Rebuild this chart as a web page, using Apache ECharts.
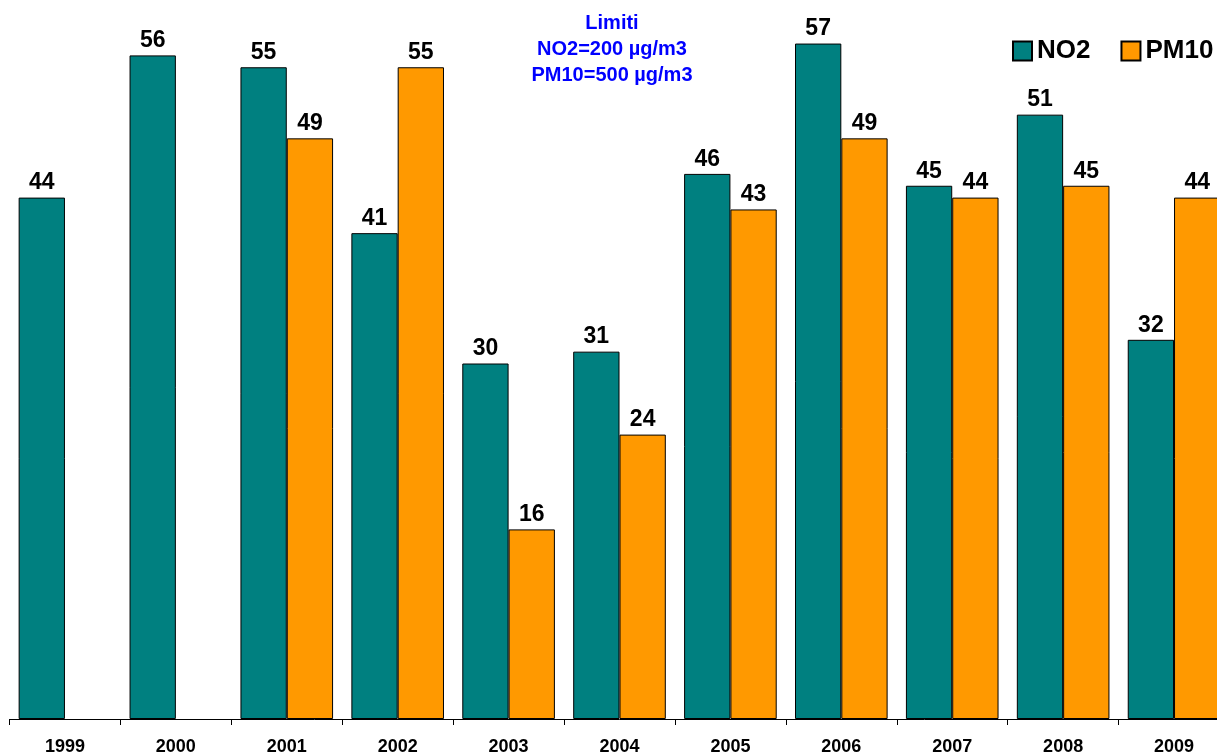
<!DOCTYPE html>
<html>
<head>
<meta charset="utf-8">
<script src="https://cdn.jsdelivr.net/npm/echarts@6/dist/echarts.min.js"></script>
<style>
  html, body { margin: 0; padding: 0; background: #fff; overflow: hidden; }
  #chart { width: 1240px; height: 756px; }
</style>
</head>
<body>
<div id="chart"></div>
<script>
// Annual values (µg/m3)
const years = ['1999', '2000', '2001', '2002', '2003', '2004', '2005', '2006', '2007', '2008', '2009'];
const no2 = [44, 56, 55, 41, 30, 31, 46, 57, 45, 51, 32];
const pm10 = [null, null, 49, 55, 16, 24, 43, 49, 44, 45, 44];
const limitsText = ['Limiti', 'NO2=200 µg/m3', 'PM10=500 µg/m3'];

const FONT = 'Arial, "Liberation Sans", sans-serif';

const chart = echarts.init(document.getElementById('chart'), null, { renderer: 'canvas' });

const valueLabel = {
  show: true,
  position: 'top',
  distance: 3,
  color: '#000',
  fontFamily: FONT,
  fontWeight: 'bold',
  fontSize: 23
};

chart.setOption({
  animation: false,
  backgroundColor: '#ffffff',
  // the last category runs past the visible right edge
  grid: { left: 9.5, top: 8, width: 1220, bottom: 37, containLabel: false },
  legend: {
    left: 1012,
    top: 38,
    padding: 0,
    itemWidth: 19,
    itemHeight: 19,
    itemGap: 30,
    icon: 'rect',
    textStyle: { fontFamily: FONT, fontWeight: 'bold', fontSize: 26, color: '#000' },
    data: ['NO2', 'PM10']
  },
  xAxis: {
    type: 'category',
    data: years,
    boundaryGap: true,
    axisLine: { show: true, lineStyle: { color: '#000', width: 1 } },
    axisTick: { show: true, length: 6, alignWithLabel: false, lineStyle: { color: '#000' } },
    axisLabel: { margin: 19, color: '#000', fontFamily: FONT, fontWeight: 'bold', fontSize: 18, interval: 0 },
    splitLine: { show: false }
  },
  yAxis: {
    type: 'value',
    min: 0,
    max: 60,
    show: false
  },
  graphic: [{
    type: 'text',
    x: 612,
    y: 10,
    style: {
      text: limitsText.join('\n'),
      font: 'bold 20px ' + FONT,
      fill: '#0000ff',
      textAlign: 'center',
      lineHeight: 26
    }
  }],
  series: [
    {
      name: 'NO2',
      type: 'bar',
      data: no2,
      barGap: '0%',
      barCategoryGap: '16.5%',
      itemStyle: { color: '#008080', borderColor: '#000', borderWidth: 1 },
      label: valueLabel
    },
    {
      name: 'PM10',
      type: 'bar',
      data: pm10,
      barGap: '0%',
      barCategoryGap: '16.5%',
      itemStyle: { color: '#ff9900', borderColor: '#000', borderWidth: 1 },
      label: valueLabel
    }
  ]
});
</script>
</body>
</html>
